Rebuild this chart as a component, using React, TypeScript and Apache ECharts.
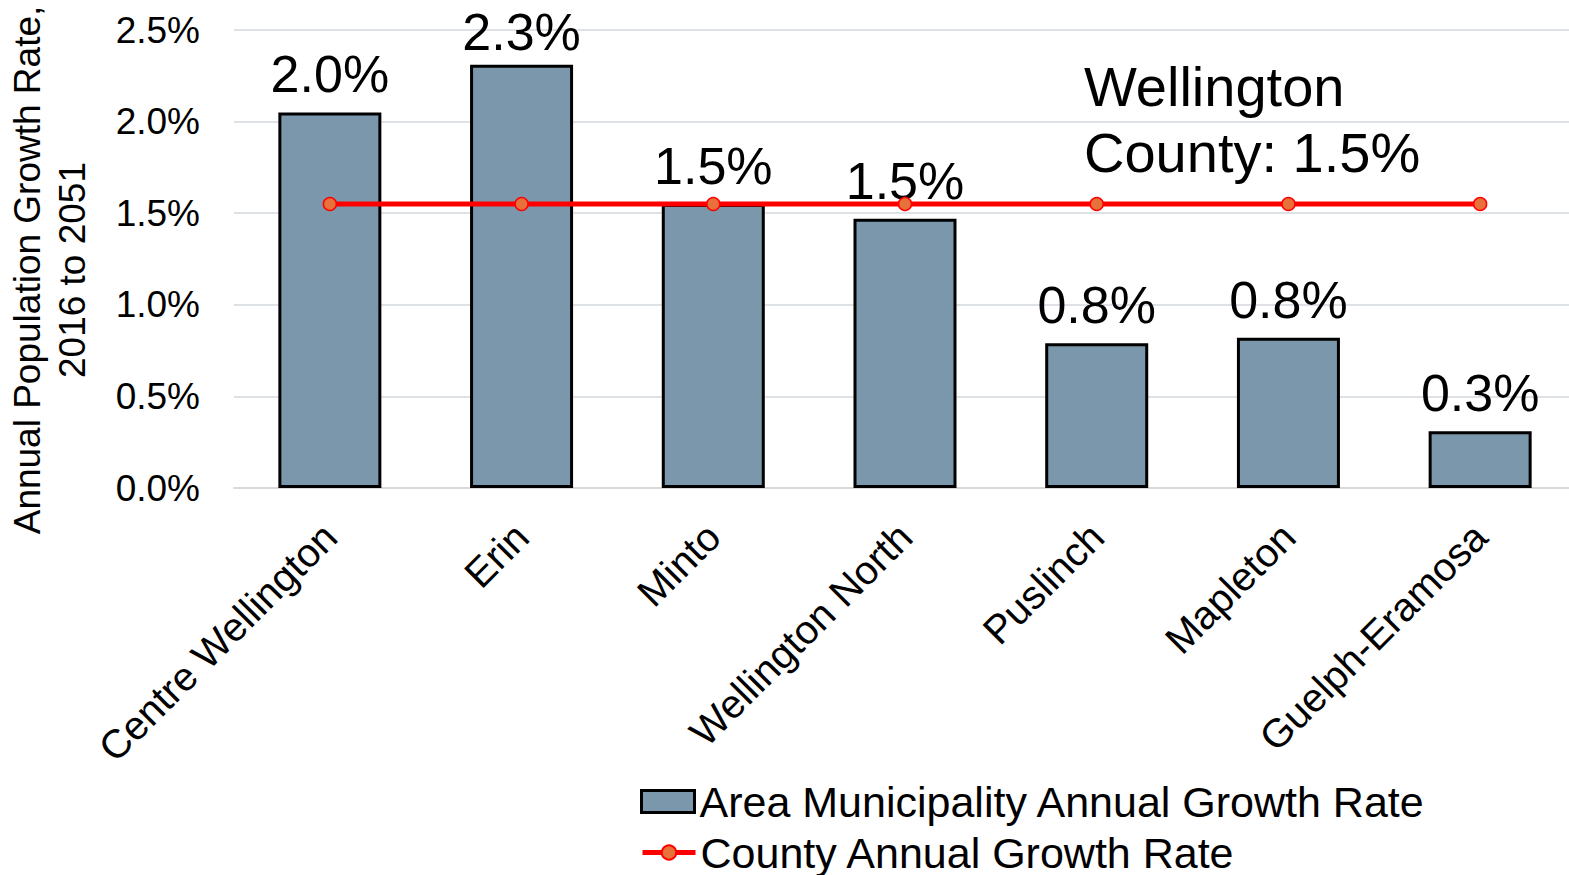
import React, { useEffect, useRef } from "react";
import * as echarts from "echarts";

const categories = [
  "Centre Wellington",
  "Erin",
  "Minto",
  "Wellington North",
  "Puslinch",
  "Mapleton",
  "Guelph-Eramosa",
];
const municipalRates = [2.05, 2.31, 1.55, 1.47, 0.79, 0.82, 0.31];
const municipalLabels = ["2.0%", "2.3%", "1.5%", "1.5%", "0.8%", "0.8%", "0.3%"];
const countyRates = [1.55, 1.55, 1.55, 1.55, 1.55, 1.55, 1.55];
const seriesNames = ["Area Municipality Annual Growth Rate", "County Annual Growth Rate"];
const yAxisTitle = "Annual Population Growth Rate,\n2016 to 2051";
const annotationText = "Wellington\nCounty: 1.5%";

const FONT = "'Liberation Sans', Arial, Helvetica, sans-serif";
// the plot area runs a few pixels past the right edge of the 1569px page
const CHART_W = 1576;

export default function App() {
  const ref = useRef<HTMLDivElement>(null);
  useEffect(() => {
    if (!ref.current) return;
    const chart = echarts.init(ref.current, null, { renderer: "svg" });
    const legendText = { fontSize: 43, color: "#000", fontFamily: FONT };
    chart.setOption({
      animation: false,
      backgroundColor: "#ffffff",
      textStyle: { fontFamily: FONT, color: "#000" },
      grid: { left: 234, right: 0, top: 30, bottom: 875 - 488, containLabel: false },
      legend: [
        {
          left: 640,
          top: 780,
          padding: 0,
          itemWidth: 53,
          itemHeight: 22,
          icon: "rect",
          itemStyle: { borderColor: "#000", borderWidth: 3 },
          textStyle: legendText,
          data: [seriesNames[0]],
        },
        {
          left: 640,
          top: 831,
          padding: 0,
          itemWidth: 53,
          itemHeight: 18,
          lineStyle: { width: 5, color: "#FF0000" },
          textStyle: legendText,
          data: [seriesNames[1]],
        },
      ],
      xAxis: {
        type: "category",
        data: categories,
        axisTick: { show: false },
        axisLine: { show: true, lineStyle: { color: "#D9D9D9", width: 2 } },
        axisLabel: {
          interval: 0,
          rotate: 45,
          fontSize: 40,
          color: "#000",
          margin: 42,
          fontFamily: FONT,
        },
      },
      yAxis: {
        type: "value",
        min: 0,
        max: 2.5,
        interval: 0.5,
        axisLine: { show: false },
        axisTick: { show: false },
        splitLine: { lineStyle: { color: "#DEE2E6", width: 2 } },
        axisLabel: {
          fontSize: 37,
          color: "#000",
          margin: 34,
          fontFamily: FONT,
          formatter: (v: number) => v.toFixed(1) + "%",
        },
      },
      graphic: [
        {
          type: "text",
          x: 50,
          y: 270,
          rotation: Math.PI / 2,
          style: {
            text: yAxisTitle,
            font: `37px ${FONT}`,
            fill: "#000",
            align: "center",
            verticalAlign: "middle",
            lineHeight: 45,
          },
        },
        {
          type: "text",
          x: 1084,
          y: 53,
          style: {
            text: annotationText,
            font: `56px ${FONT}`,
            fill: "#000",
            align: "left",
            verticalAlign: "top",
            lineHeight: 66,
          },
        },
      ],
      series: [
        {
          name: seriesNames[0],
          type: "bar",
          // the tallest label is nudged down so it stays inside the chart, as in the original
          data: municipalRates.map((v, i) =>
            v === Math.max(...municipalRates) ? { value: v, label: { offset: [0, 5] } } : v
          ),
          barWidth: 103,
          itemStyle: { color: "#7A97AC", borderColor: "#000", borderWidth: 3 },
          label: {
            show: true,
            position: "top",
            distance: 12,
            fontSize: 52,
            color: "#000",
            fontFamily: FONT,
            formatter: (p: any) => municipalLabels[p.dataIndex],
          },
          z: 2,
        },
        {
          name: seriesNames[1],
          type: "line",
          data: countyRates,
          symbol: "circle",
          symbolSize: 13,
          lineStyle: { color: "#FF0000", width: 5 },
          itemStyle: { color: "#E8703A", borderColor: "#FF0000", borderWidth: 1.5 },
          z: 3,
        },
      ],
    });
    return () => chart.dispose();
  }, []);
  return (
    <div
      ref={ref}
      style={{ position: "fixed", left: 0, top: 0, width: CHART_W, height: 875 }}
    />
  );
}
